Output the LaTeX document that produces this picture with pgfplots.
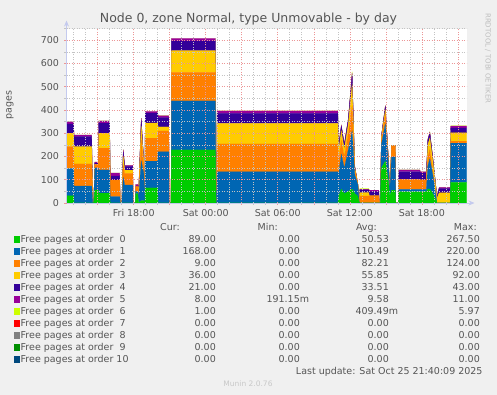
\documentclass[border=0pt]{standalone}
\usepackage{fontspec}
\setmainfont{DejaVu Sans}
\usepackage{pgfplots}
\usepackage{pgfplotstable}
\pgfplotsset{compat=1.18}
\usetikzlibrary{arrows.meta}

\definecolor{bgc}{RGB}{240,240,240}
\definecolor{txt}{RGB}{85,85,85}
\definecolor{axc}{RGB}{196,202,238}
\definecolor{mgrid}{RGB}{236,150,150}
\definecolor{ngrid}{RGB}{195,195,195}
\definecolor{c0}{HTML}{00CC00}
\definecolor{c1}{HTML}{0066B3}
\definecolor{c2}{HTML}{FF8000}
\definecolor{c3}{HTML}{FFCC00}
\definecolor{c4}{HTML}{330099}
\definecolor{c5}{HTML}{990099}
\definecolor{c6}{HTML}{CCFF00}
\definecolor{c7}{HTML}{FF0000}
\definecolor{c8}{HTML}{808080}
\definecolor{c9}{HTML}{008F00}
\definecolor{c10}{HTML}{00487D}

% hours relative to Sat 00:00; g=order0 ... l=order6
\pgfplotstableread{
h g b o y i p l
-11.6 31 118 93 58 40 10 0
-11.0 31 118 93 58 40 10 0
-10.975 0 73 95 74 43 7 0
-9.5 0 73 95 74 43 7 0
-9.417 0 0 0 0 0 0 0
-9.333 0 0 0 0 0 0 0
-9.25 56 95 15 0 5 5 0
-8.958 56 95 15 0 5 5 0
-8.917 42 100 94 64 43 10 0
-8.0 42 100 94 64 43 10 0
-7.958 0 27 71 0 18 13 0
-7.167 0 27 71 0 18 13 0
-7.125 0 0 0 0 0 0 0
-7.0 0 0 0 0 0 0 0
-6.875 0 110 50 40 20 10 0
-6.75 0 77 50 14 17 4 0
-6.083 0 77 50 14 17 4 0
-6.042 0 0 0 0 0 0 0
-5.875 0 0 0 0 0 0 0
-5.833 40 10 20 0 0 10 0
-5.667 40 10 20 0 0 10 0
-5.583 0 30 20 10 5 5 0
-5.375 10 170 90 60 25 10 0
-5.167 10 120 30 20 5 5 0
-5.083 0 0 0 0 0 0 0
-5.042 65 115 99 65 43 7 0
-4.0 65 115 99 65 43 7 0
-3.975 0 220 90 17 40 8 0
-3.083 0 220 90 17 40 8 0
-3.042 0 0 0 0 0 0 0
-2.892 0 0 0 0 0 0 0
-2.858 228 211 123 93 42 11 0
0.808 228 211 123 93 42 11 0
0.85 0 0 0 0 0 0 0
0.9 0 0 0 0 0 0 0
0.942 0 134 120 88 43 11 0
11.0 0 134 120 88 43 11 0
11.083 30 100 60 40 20 5 0
11.292 60 150 60 40 20 5 0
11.542 40 110 50 30 20 5 0
11.875 50 180 70 40 20 5 0
12.192 60 250 110 90 40 10 5
12.417 40 80 20 10 5 3 0
12.667 30 50 5 0 0 0 0
12.792 0 0 0 0 0 0 0
12.833 0 0 30 15 11 3 3
13.583 0 0 30 15 11 3 3
13.625 0 0 31 0 17 7 0
14.417 0 0 31 0 17 7 0
14.458 0 0 0 0 0 0 0
14.542 0 0 0 0 0 0 0
14.625 150 100 20 10 5 2 0
14.958 180 160 40 20 15 5 0
15.208 100 80 10 5 5 0 0
15.333 30 20 0 0 0 0 0
15.475 55 143 50 0 0 0 0
15.792 55 143 50 0 0 0 0
15.833 0 0 0 0 0 0 0
16.042 0 0 0 0 0 0 0
16.083 49 10 43 0 33 7 0
17.833 49 10 43 0 33 7 0
17.875 49 10 40 0 30 6 0
18.375 49 10 40 0 30 6 0
18.5 60 100 40 50 20 5 0
18.667 60 130 40 50 20 5 2
18.917 40 80 20 40 10 5 0
19.208 10 10 0 30 5 0 0
19.25 0 0 0 20 5 2 0
19.442 0 0 0 44 18 5 0
20.333 0 0 0 44 18 5 0
20.367 0 0 0 0 0 0 0
20.4 89 168 9 36 21 8 1
21.72 89 168 9 36 21 8 1
}\datatab

\newcommand{\legrow}[7]{%
  \pgfmathsetmacro{\yy}{155.3-12*#1}%
  \fill[#2] (14bp,\yy bp-3.2bp) rectangle ++(6.4bp,6.4bp);
  \node[lg,anchor=west] at (20.5bp,\yy bp) {#3};
  \node[lg,anchor=east] at (216bp,\yy bp) {#4};
  \node[lg,anchor=east] at (300bp,\yy bp) {#5};
  \node[lg,anchor=east] at (389bp,\yy bp) {#6};
  \node[lg,anchor=east] at (480bp,\yy bp) {#7};
}

\begin{document}
\begin{tikzpicture}[
  lg/.style={inner sep=0pt, text=txt, font=\fontsize{9.5bp}{11bp}\selectfont, text height=7bp, text depth=2bp}]
\fill[bgc] (0bp,0bp) rectangle (497bp,395bp);
\begin{axis}[
  at={(66.5bp,192bp)}, anchor=south west,
  scale only axis, width=400bp, height=174.4bp,
  xmin=-11.6, xmax=21.72, ymin=0, ymax=750,
  stack plots=y,
  axis on top,
  axis background/.style={fill=white},
  axis x line=bottom, axis y line=left,
  axis line style={draw=axc, line width=0.8bp, -{Stealth[length=6bp,width=5bp]}, shorten >=-8bp},
  xtick={-9,-6,-3,0,3,6,9,12,15,18,21},
  xticklabels={,Fri 18:00,,Sat 00:00,,Sat 06:00,,Sat 12:00,,Sat 18:00,},
  minor xtick={-11,-10,...,21},
  ytick={0,100,...,700},
  minor ytick={50,150,...,750},
  grid=both,
  major grid style={draw=mgrid, line width=0.6bp, dash pattern=on 1bp off 1.5bp},
  minor grid style={draw=ngrid, line width=0.6bp, dash pattern=on 1bp off 1.5bp},
  tick align=outside,
  major tick length=2bp, minor tick length=2bp,
  major tick style={draw=mgrid, line width=0.6bp},
  minor tick style={draw=ngrid, line width=0.6bp},
  tick label style={text=txt, font=\fontsize{9.5bp}{11bp}\selectfont},
  /pgf/number format/assume math mode=true,
  yticklabel style={xshift=-2bp},
  xticklabel style={yshift=-1bp},
]
\addplot[fill=c0, draw=c0, line width=0.2bp] table[x=h,y=g] {\datatab} \closedcycle;
\addplot[fill=c1, draw=c1, line width=0.2bp] table[x=h,y=b] {\datatab} \closedcycle;
\addplot[fill=c2, draw=c2, line width=0.2bp] table[x=h,y=o] {\datatab} \closedcycle;
\addplot[fill=c3, draw=c3, line width=0.2bp] table[x=h,y=y] {\datatab} \closedcycle;
\addplot[fill=c4, draw=c4, line width=0.2bp] table[x=h,y=i] {\datatab} \closedcycle;
\addplot[fill=c5, draw=c5, line width=0.2bp] table[x=h,y=p] {\datatab} \closedcycle;
\addplot[fill=c6, draw=c6, line width=0.2bp] table[x=h,y=l] {\datatab} \closedcycle;
\end{axis}

% title and labels
\node[text=txt, font=\fontsize{12.5bp}{14bp}\selectfont, inner sep=0pt] at (248.5bp,376bp) {Node 0, zone Normal, type Unmovable - by day};
\node[text=txt, font=\fontsize{9.5bp}{11bp}\selectfont, rotate=90, inner sep=0pt] at (10bp,290bp) {pages};
\node[text={rgb,255:red,190;green,190;blue,190}, font=\fontsize{7bp}{8bp}\selectfont, rotate=-90, inner sep=0pt, anchor=west] at (488bp,382bp) {RRDTOOL / TOBI OETIKER};

% legend header
\node[lg,anchor=east] at (180bp,167.3bp) {Cur:};
\node[lg,anchor=east] at (278bp,167.3bp) {Min:};
\node[lg,anchor=east] at (377bp,167.3bp) {Avg:};
\node[lg,anchor=east] at (477bp,167.3bp) {Max:};

\legrow{0}{c0}{Free pages at order\ \ 0}{89.00}{0.00}{50.53}{267.50}
\legrow{1}{c1}{Free pages at order\ \ 1}{168.00}{0.00}{110.49}{220.00}
\legrow{2}{c2}{Free pages at order\ \ 2}{9.00}{0.00}{82.21}{124.00}
\legrow{3}{c3}{Free pages at order\ \ 3}{36.00}{0.00}{55.85}{92.00}
\legrow{4}{c4}{Free pages at order\ \ 4}{21.00}{0.00}{33.51}{43.00}
\legrow{5}{c5}{Free pages at order\ \ 5}{8.00}{191.15\rlap{m}}{9.58}{11.00}
\legrow{6}{c6}{Free pages at order\ \ 6}{1.00}{0.00}{409.49\rlap{m}}{5.97}
\legrow{7}{c7}{Free pages at order\ \ 7}{0.00}{0.00}{0.00}{0.00}
\legrow{8}{c8}{Free pages at order\ \ 8}{0.00}{0.00}{0.00}{0.00}
\legrow{9}{c9}{Free pages at order\ \ 9}{0.00}{0.00}{0.00}{0.00}
\legrow{10}{c10}{Free pages at order\ 10}{0.00}{0.00}{0.00}{0.00}

\node[lg,anchor=east] at (482.7bp,23.3bp) {Last update: Sat Oct 25 21:40:09 2025};
\node[text={rgb,255:red,200;green,200;blue,200}, font=\fontsize{7.5bp}{9bp}\selectfont, inner sep=0pt] at (248bp,11bp) {Munin 2.0.76};
\end{tikzpicture}
\end{document}
